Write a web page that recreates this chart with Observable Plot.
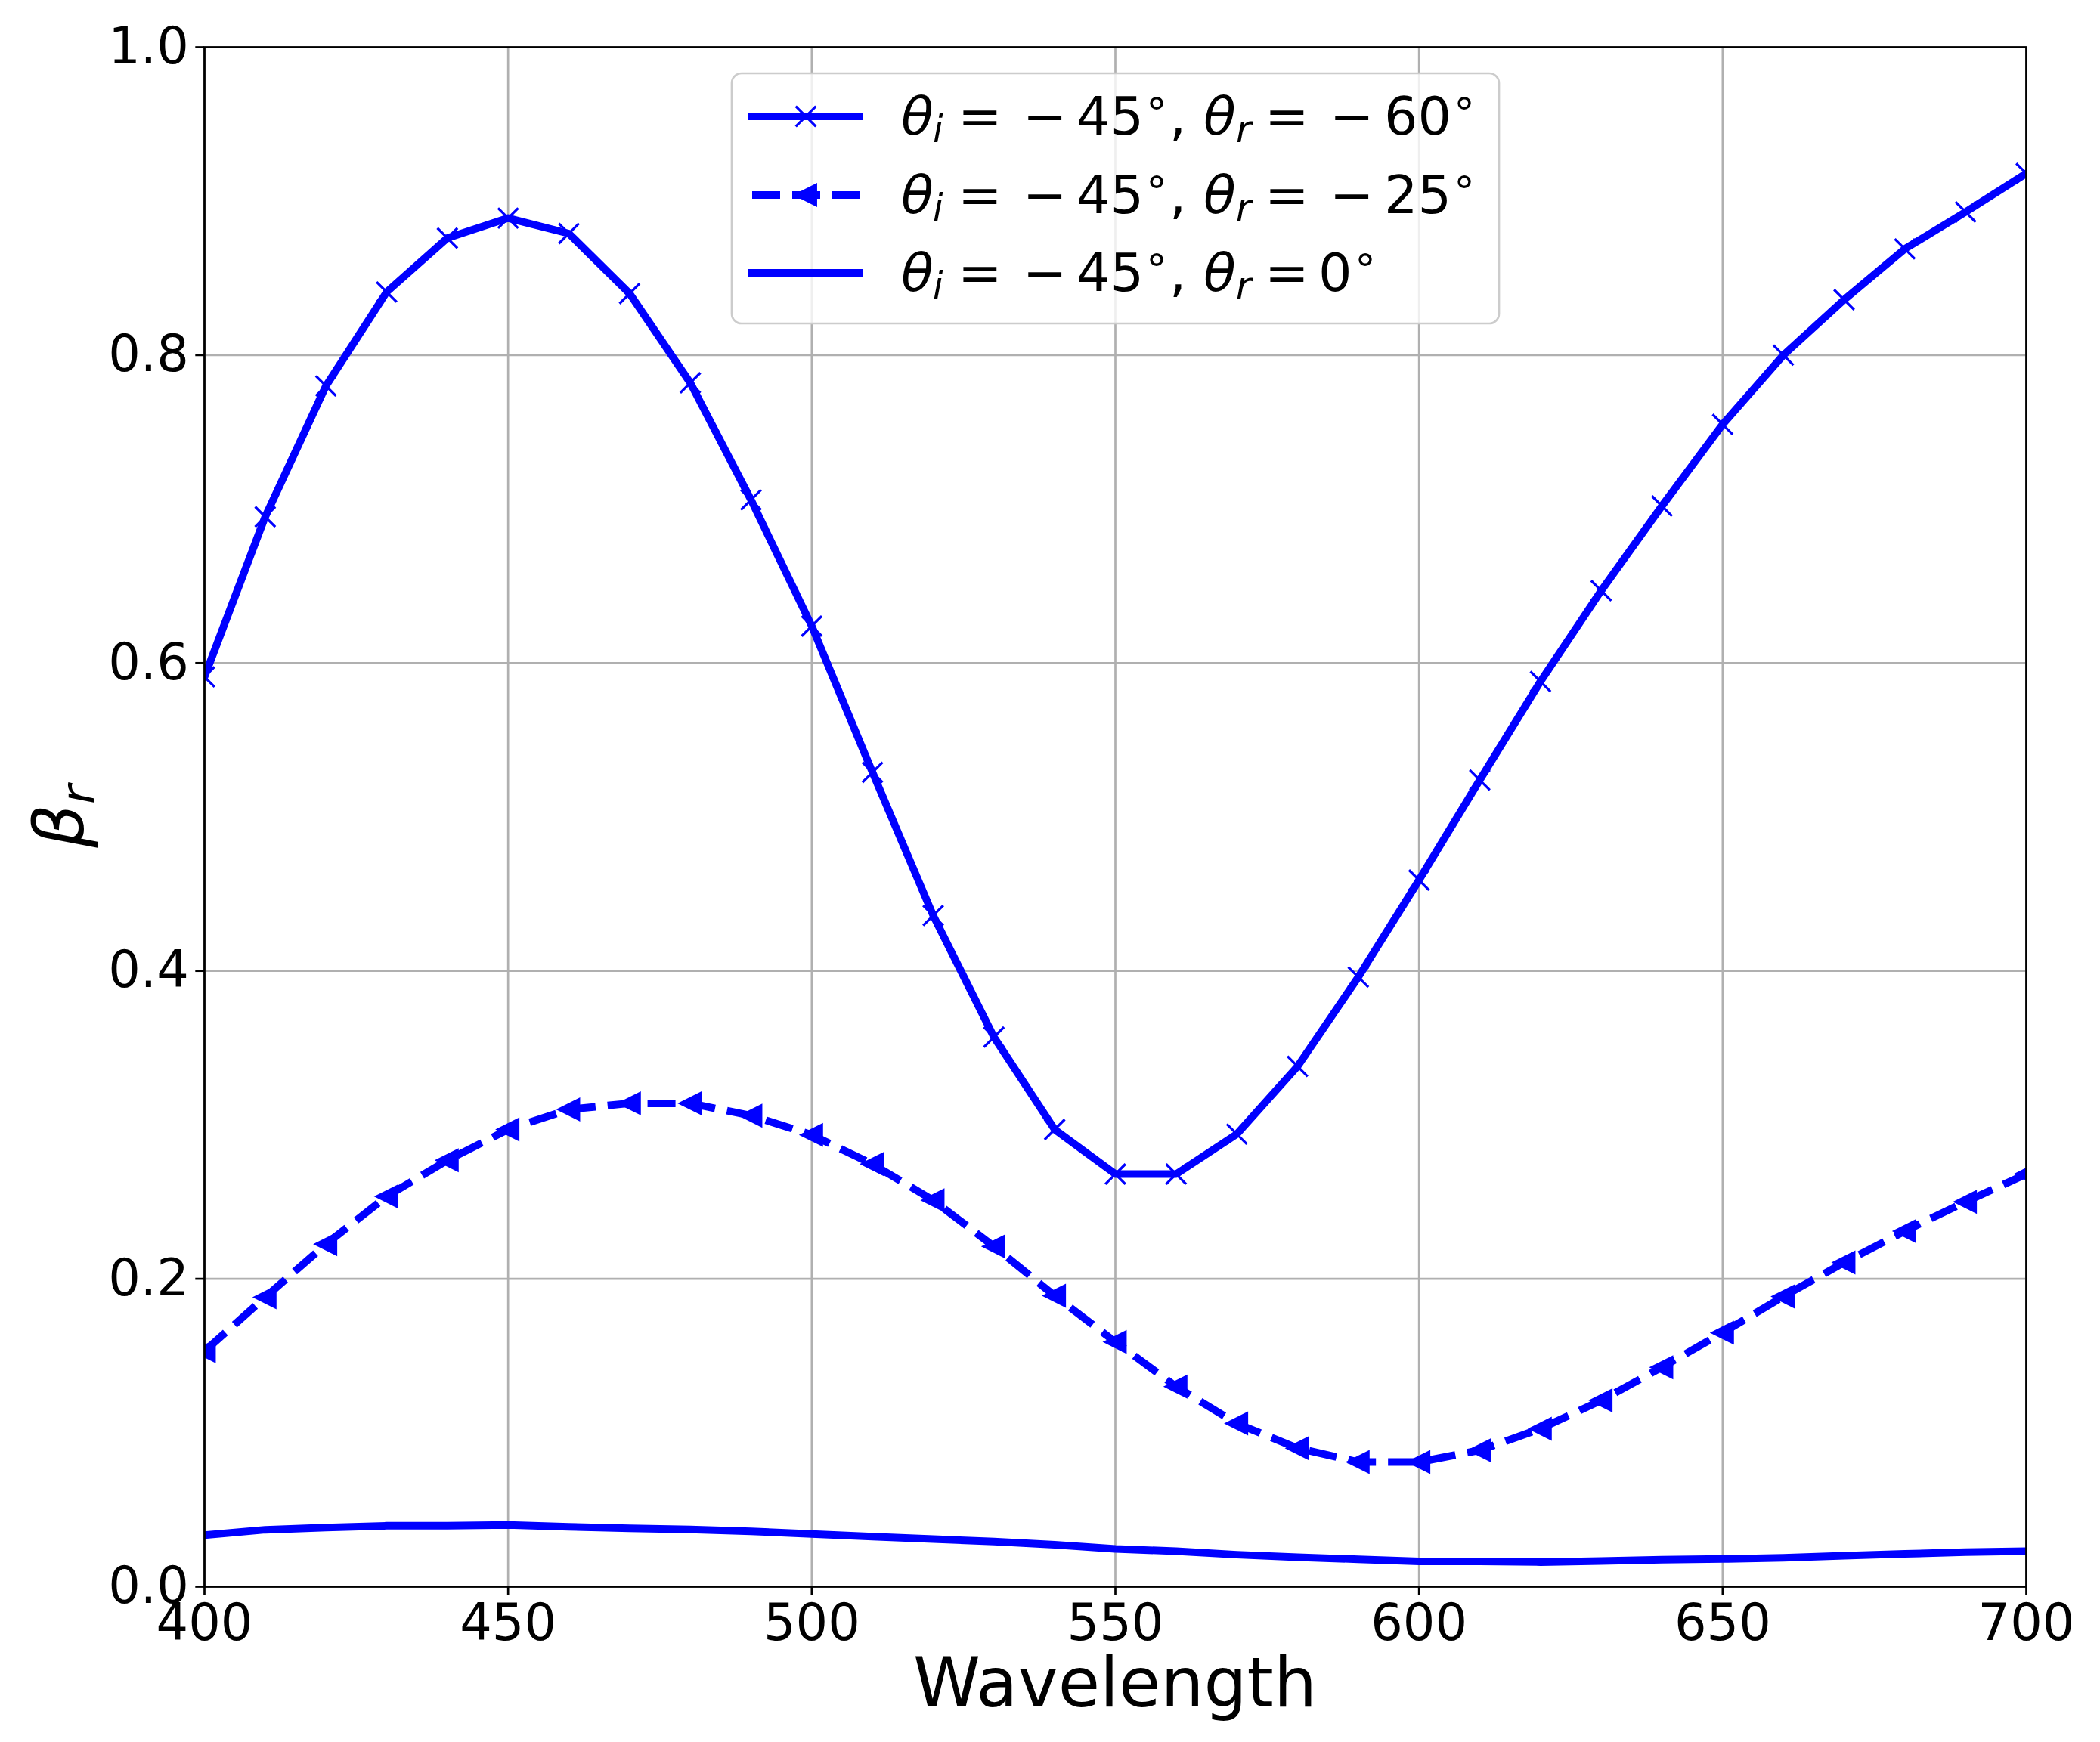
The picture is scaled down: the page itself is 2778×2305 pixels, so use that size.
<!DOCTYPE html>
<html><head><meta charset="utf-8">
<script src="https://cdn.jsdelivr.net/npm/d3@7"></script>
<script src="https://cdn.jsdelivr.net/npm/@observablehq/plot@0.6"></script>
<style>body{margin:0;background:#fff}</style>
</head><body><div id="chart"></div>
<script>
// ---- data ----
const wavelength = [400,410,420,430,440,450,460,470,480,490,500,510,520,530,540,550,560,570,580,590,600,610,620,630,640,650,660,670,680,690,700];
const beta60 = [0.591,0.695,0.780,0.841,0.876,0.889,0.879,0.840,0.782,0.706,0.624,0.529,0.436,0.357,0.297,0.268,0.268,0.294,0.338,0.396,0.459,0.524,0.588,0.647,0.702,0.755,0.800,0.836,0.869,0.893,0.918];
const beta25 = [0.153,0.188,0.2225,0.2535,0.277,0.297,0.310,0.314,0.314,0.306,0.2935,0.2745,0.251,0.221,0.189,0.159,0.130,0.106,0.090,0.081,0.081,0.0886,0.1026,0.121,0.1425,0.165,0.1885,0.2106,0.231,0.250,0.268];
const beta0 = [0.0335,0.037,0.0384,0.0396,0.0396,0.0401,0.0389,0.0379,0.0372,0.036,0.0342,0.0325,0.0309,0.0293,0.0273,0.0245,0.0231,0.0208,0.0191,0.0178,0.0165,0.0165,0.016,0.0167,0.0175,0.018,0.0188,0.0201,0.0213,0.0224,0.0231];
const xTicks = [400,450,500,550,600,650,700];
const yTicks = [0,0.2,0.4,0.6,0.8,1.0];
const seriesNames = ["θr = −60°","θr = −25°","θr = 0°"];
const rValues = ["60", "25", "0"];

const W = 2778, H = 2305;
const mL = 270, mR = 98, mT = 62, mB = 206;
const blue = "#0000ff";

function rows(values, name) {
  return wavelength.map((w, i) => ({wavelength: w, beta: values[i], series: name}));
}
const d60 = rows(beta60, seriesNames[0]);
const d25 = rows(beta25, seriesNames[1]);
const d0 = rows(beta0, seriesNames[2]);

const symX = {draw(ctx, size) { const h = Math.sqrt(size / Math.PI); ctx.moveTo(-h, -h); ctx.lineTo(h, h); ctx.moveTo(-h, h); ctx.lineTo(h, -h); }};
const symTriLeft = {draw(ctx, size) { const h = Math.sqrt(size / Math.PI); ctx.moveTo(-h, 0); ctx.lineTo(h, -h); ctx.lineTo(h, h); ctx.closePath(); }};

const chart = Plot.plot({
  width: W, height: H,
  marginLeft: mL, marginRight: mR, marginTop: mT, marginBottom: mB,
  style: {fontFamily: "'DejaVu Sans'", fontSize: "67px", background: "#fff", color: "#000"},
  x: {domain: [400, 700]},
  y: {domain: [0, 1]},
  marks: [
    Plot.gridX(xTicks, {stroke: "#b0b0b0", strokeOpacity: 1, strokeWidth: 2.7}),
    Plot.gridY(yTicks, {stroke: "#b0b0b0", strokeOpacity: 1, strokeWidth: 2.7}),
    Plot.line(d60, {x: "wavelength", y: "beta", stroke: blue, strokeWidth: 10, strokeLinejoin: "round", clip: true}),
    Plot.dot(d60, {x: "wavelength", y: "beta", symbol: symX, r: 13.3, fill: "none", stroke: blue, strokeWidth: 3.3, clip: true}),
    Plot.line(d25, {x: "wavelength", y: "beta", stroke: blue, strokeWidth: 10, strokeLinejoin: "round", strokeLinecap: "butt", strokeDasharray: "37,16", clip: true}),
    Plot.dot(d25, {x: "wavelength", y: "beta", symbol: symTriLeft, r: 13.3, fill: blue, stroke: blue, strokeWidth: 3.3, clip: true}),
    Plot.line(d0, {x: "wavelength", y: "beta", stroke: blue, strokeWidth: 10, strokeLinejoin: "round", clip: true}),
    Plot.axisX(xTicks, {tickSize: 11.7, tickPadding: 11, strokeWidth: 2.7, fontSize: 67, label: null}),
    Plot.axisY(yTicks, {tickSize: 11.7, tickPadding: 9, strokeWidth: 2.7, fontSize: 67, tickFormat: d3.format(".1f"), label: null}),
    Plot.frame({stroke: "#000", strokeWidth: 2.7})
  ]
});
document.getElementById("chart").appendChild(chart);

const svg = d3.select(chart);
const font = "'DejaVu Sans'";

// axis labels
svg.append("text").attr("x", (mL + W - mR) / 2).attr("y", 2258)
  .attr("text-anchor", "middle").attr("font-family", font).attr("font-size", 90).attr("fill", "#000")
  .text("Wavelength");
const yl = svg.append("text").attr("transform", "translate(110,1080) rotate(-90)")
  .attr("text-anchor", "middle").attr("font-family", font).attr("font-size", 90).attr("fill", "#000");
yl.append("tspan").attr("font-style", "italic").text("β");
yl.append("tspan").attr("font-style", "italic").attr("font-size", 63).attr("dy", 15).text("r");

// legend
const lg = svg.append("g").attr("text-anchor", "start");
lg.append("rect").attr("x", 968).attr("y", 97).attr("width", 1015).attr("height", 331)
  .attr("rx", 13).attr("fill", "#fff").attr("fill-opacity", 0.8).attr("stroke", "#cccccc").attr("stroke-width", 2.7);
const rowsY = [154, 258, 361];
const symPath = (sym) => { const p = d3.path(); sym.draw(p, Math.PI * 13.3 * 13.3); return p.toString(); };
lg.append("line").attr("x1", 990).attr("x2", 1142).attr("y1", rowsY[0]).attr("y2", rowsY[0]).attr("stroke", blue).attr("stroke-width", 10);
lg.append("path").attr("d", symPath(symX))
  .attr("transform", `translate(1066,${rowsY[0]})`).attr("fill", "none").attr("stroke", blue).attr("stroke-width", 3.3);
lg.append("line").attr("x1", 995).attr("x2", 1140).attr("y1", rowsY[1]).attr("y2", rowsY[1]).attr("stroke", blue).attr("stroke-width", 10).attr("stroke-dasharray", "37,16");
lg.append("path").attr("d", symPath(symTriLeft))
  .attr("transform", `translate(1066,${rowsY[1]})`).attr("fill", blue).attr("stroke", blue).attr("stroke-width", 3.3);
lg.append("line").attr("x1", 990).attr("x2", 1142).attr("y1", rowsY[2]).attr("y2", rowsY[2]).attr("stroke", blue).attr("stroke-width", 10);

// legend texts
rowsY.forEach((cy, k) => {
  const b = cy + 24;
  const t = lg.append("text").attr("text-anchor", "start").attr("font-family", font).attr("font-size", 70).attr("fill", "#000");
  const piece = (x, y, s, opts = {}) => {
    const ts = t.append("tspan").attr("x", x).attr("y", y).attr("text-anchor", "start").text(s);
    if (opts.italic) ts.attr("font-style", "italic");
    if (opts.size) ts.attr("font-size", opts.size);
  };
  piece(1192, b, "θ", {italic: true});
  piece(1234, b + 10, "i", {italic: true, size: 49});
  piece(1267, b, "=");
  piece(1353, b, "−");
  piece(1424, b, "45");
  piece(1516, b - 9, "°", {size: 56});
  piece(1547, b, ",");
  piece(1592, b, "θ", {italic: true});
  piece(1635, b + 10, "r", {italic: true, size: 49});
  piece(1673, b, "=");
  if (k < 2) {
    piece(1759, b, "−");
    piece(1831, b, rValues[k]);
    piece(1923, b - 9, "°", {size: 56});
  } else {
    piece(1744, b, rValues[k]);
    piece(1792, b - 9, "°", {size: 56});
  }
});
</script>
</body></html>
